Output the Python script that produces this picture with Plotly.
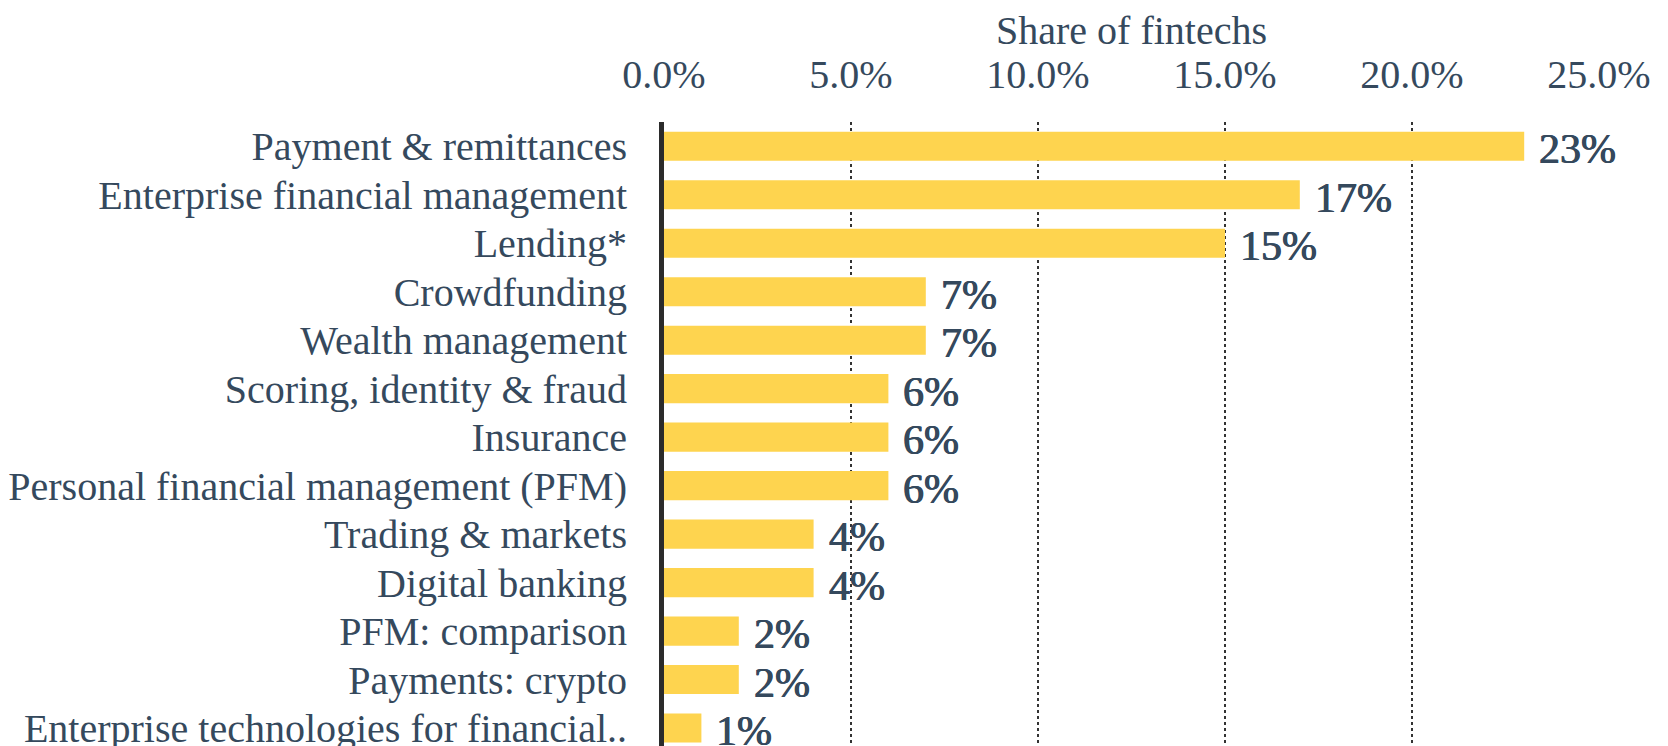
import plotly.graph_objects as go

categories = [
    "Payment & remittances",
    "Enterprise financial management",
    "Lending*",
    "Crowdfunding",
    "Wealth management",
    "Scoring, identity & fraud",
    "Insurance",
    "Personal financial management (PFM)",
    "Trading & markets",
    "Digital banking",
    "PFM: comparison",
    "Payments: crypto",
    "Enterprise technologies for financial..",
]
values = [23.0, 17.0, 15.0, 7.0, 7.0, 6.0, 6.0, 6.0, 4.0, 4.0, 2.0, 2.0, 1.0]
x_ticks = [0, 5, 10, 15, 20, 25]
x_title = "Share of fintechs"

TEXT = "#35495d"
FONT = "Liberation Serif"

fig = go.Figure()
fig.add_trace(go.Bar(
    x=values, y=categories, orientation="h",
    marker=dict(color="#FED44F", line=dict(width=0)),
    width=0.6,
))

for c, v in zip(categories, values):
    fig.add_annotation(
        x=v, y=c, text=f"{round(v)}%", showarrow=False,
        xanchor="left", yanchor="middle", xshift=13, yshift=-3,
        font=dict(family=FONT, size=42, color=TEXT,
                  shadow="0.5px 0px 0px #35495d, -0.4px 0px 0px #35495d"),
    )

# the page body adds an 8px offset; the figure is sized to fill the rest of the window
fig.update_layout(
    width=1660, height=738,
    margin=dict(l=656, r=69, t=114, b=0, pad=0),
    paper_bgcolor="white", plot_bgcolor="rgba(0,0,0,0)",
    showlegend=False,
    font=dict(family=FONT, color=TEXT, size=40),
)
fig.update_xaxes(
    side="top", range=[0, 25], automargin=False,
    tickvals=x_ticks, ticktext=[f"{t:.1f}%" for t in x_ticks],
    ticks="outside", ticklen=17, tickcolor="rgba(0,0,0,0)",
    tickfont=dict(family=FONT, size=40, color=TEXT),
    showgrid=True, gridcolor="#333333", griddash="dot", gridwidth=1.5,
    zeroline=False, showline=False,
    title=dict(text=x_title, font=dict(family=FONT, size=40, color=TEXT), standoff=10),
)
fig.update_yaxes(
    categoryorder="array", categoryarray=categories,
    range=[12.37, -0.5], automargin=False,
    ticks="outside", ticklen=24, tickcolor="rgba(0,0,0,0)",
    tickfont=dict(family=FONT, size=40, color=TEXT),
    showline=True, linecolor="#2b2b2b", linewidth=5,
    showgrid=False, zeroline=False,
)

fig.write_html("out.html")
